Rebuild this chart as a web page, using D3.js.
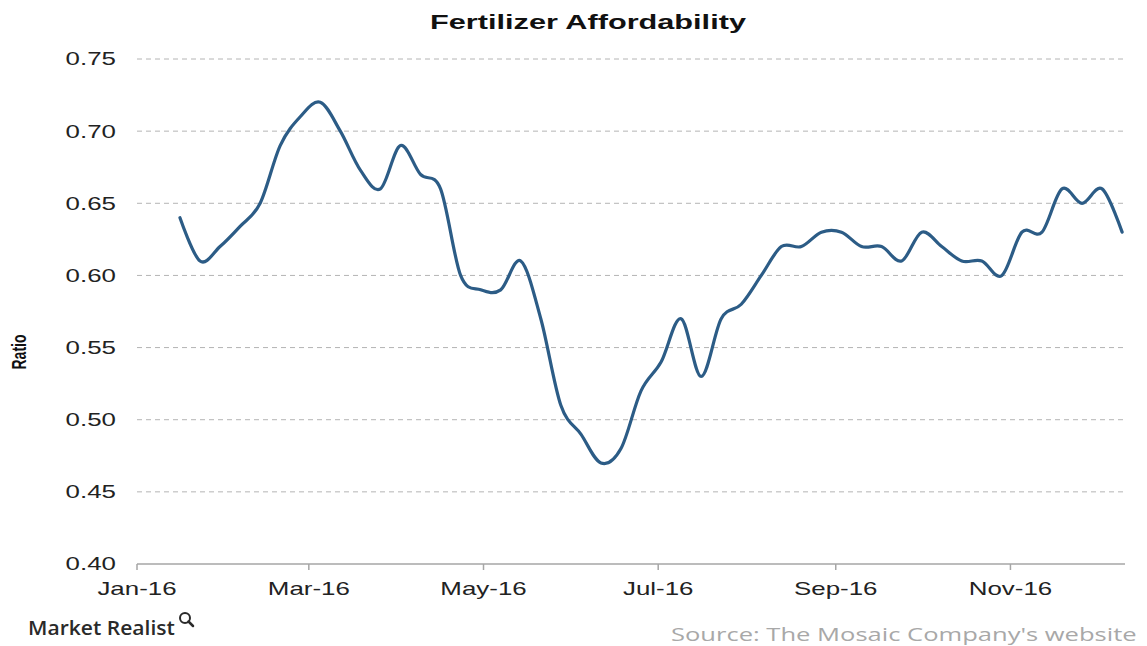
<!DOCTYPE html>
<html><head><meta charset="utf-8">
<script src="https://cdn.jsdelivr.net/npm/d3@7"></script>
<style>body{margin:0;background:#fff;overflow:hidden}svg{display:block}</style>
</head><body>
<svg id="chart" width="1147" height="646"></svg>
<script>
// ---- data ----
const weekDates = [
  "2016-01-16","2016-01-23","2016-01-30","2016-02-06","2016-02-13","2016-02-20","2016-02-27",
  "2016-03-05","2016-03-12","2016-03-19","2016-03-26","2016-04-02","2016-04-09","2016-04-16",
  "2016-04-23","2016-04-30","2016-05-07","2016-05-14","2016-05-21","2016-05-28","2016-06-04",
  "2016-06-11","2016-06-18","2016-06-25","2016-07-02","2016-07-09","2016-07-16","2016-07-23",
  "2016-07-30","2016-08-06","2016-08-13","2016-08-20","2016-08-27","2016-09-03","2016-09-10",
  "2016-09-17","2016-09-24","2016-10-01","2016-10-08","2016-10-15","2016-10-22","2016-10-29",
  "2016-11-05","2016-11-12","2016-11-19","2016-11-26","2016-12-03","2016-12-10"
];
const ratioValues = [
  0.64, 0.61, 0.62, 0.634, 0.65, 0.69, 0.71,
  0.72, 0.70, 0.673, 0.66, 0.69, 0.67, 0.66,
  0.60, 0.59, 0.59, 0.61, 0.57, 0.51, 0.49,
  0.47, 0.48, 0.52, 0.54, 0.57, 0.53, 0.57,
  0.58, 0.60, 0.62, 0.62, 0.63, 0.63, 0.62,
  0.62, 0.61, 0.63, 0.62, 0.61, 0.61, 0.60,
  0.63, 0.63, 0.66, 0.65, 0.66, 0.63
];
const yTickValues = [0.40, 0.45, 0.50, 0.55, 0.60, 0.65, 0.70, 0.75];
const xTickDates = ["2016-01-01","2016-03-01","2016-05-01","2016-07-01","2016-09-01","2016-11-01"];
const xTickLabels = ["Jan-16","Mar-16","May-16","Jul-16","Sep-16","Nov-16"];
const titleText = "Fertilizer Affordability";
const yAxisTitle = "Ratio";
const brandText = "Market Realist";
const sourceText = "Source: The Mosaic Company's website";

// ---- layout ----
const parse = d3.timeParse("%Y-%m-%d");
const svg = d3.select("#chart");
const plot = {left: 137, right: 1125, top: 59, bottom: 564};
const sx = 1.4; // horizontal stretch of the picture's lettering

const x = d3.scaleTime()
  .domain([parse("2016-01-01"), parse("2016-12-11")])
  .range([plot.left, plot.right]);
const y = d3.scaleLinear().domain([0.40, 0.75]).range([plot.bottom, plot.top]);

const data = weekDates.map((d, i) => ({date: parse(d), value: ratioValues[i]}));

// gridlines
svg.append("g").selectAll("line")
  .data(yTickValues.filter(v => v > 0.40))
  .join("line")
  .attr("x1", plot.left).attr("x2", plot.right)
  .attr("y1", d => y(d)).attr("y2", d => y(d))
  .attr("stroke", "#b4b4b4").attr("stroke-width", 1)
  .attr("stroke-dasharray", "5,4");

// y tick labels
svg.append("g").selectAll("text")
  .data(yTickValues)
  .join("text")
  .attr("transform", d => `translate(116,${y(d)}) scale(${sx},1)`)
  .attr("dy", "0.35em")
  .attr("text-anchor", "end")
  .attr("font-family", "Liberation Sans, Arial, sans-serif")
  .attr("font-size", 18.5)
  .attr("fill", "#222")
  .text(d => d.toFixed(2));

// x axis line and ticks
const xa = svg.append("g");
xa.append("line")
  .attr("x1", plot.left).attr("x2", plot.right)
  .attr("y1", plot.bottom).attr("y2", plot.bottom)
  .attr("stroke", "#a6a6a6").attr("stroke-width", 1.5);
const xTicks = xTickDates.map((d, i) => ({date: parse(d), label: xTickLabels[i]}));
xa.selectAll("line.tick")
  .data(xTicks)
  .join("line").attr("class", "tick")
  .attr("x1", d => x(d.date)).attr("x2", d => x(d.date))
  .attr("y1", plot.bottom).attr("y2", plot.bottom + 6)
  .attr("stroke", "#a6a6a6").attr("stroke-width", 1.5);
xa.selectAll("text")
  .data(xTicks)
  .join("text")
  .attr("transform", d => `translate(${x(d.date)},595) scale(${sx},1)`)
  .attr("text-anchor", "middle")
  .attr("font-family", "Liberation Sans, Arial, sans-serif")
  .attr("font-size", 18.5)
  .attr("fill", "#222")
  .text(d => d.label);

// line
const line = d3.line()
  .x(d => x(d.date))
  .y(d => y(d.value))
  .curve(d3.curveCardinal.tension(0));
svg.append("path")
  .datum(data)
  .attr("d", line)
  .attr("fill", "none")
  .attr("stroke", "#2c5c86")
  .attr("stroke-width", 3.2)
  .attr("stroke-linejoin", "round")
  .attr("stroke-linecap", "round");

// helper to stretch text horizontally to a target width
function fit(sel, width) {
  const w = sel.node().getComputedTextLength();
  return w > 0 ? width / w : 1;
}

// title
const title = svg.append("text")
  .attr("text-anchor", "middle")
  .attr("font-family", "Liberation Sans, Arial, sans-serif")
  .attr("font-weight", "bold")
  .attr("font-size", 20)
  .attr("fill", "#111")
  .text(titleText);
title.attr("transform", `translate(588,28.5) scale(${fit(title, 316)},1)`);

// y axis title
svg.append("text")
  .attr("transform", `translate(26,352) scale(1.45,1) rotate(-90)`)
  .attr("text-anchor", "middle")
  .attr("font-family", "Liberation Sans, Arial, sans-serif")
  .attr("font-weight", "bold")
  .attr("font-size", 14)
  .attr("fill", "#111")
  .text(yAxisTitle);

// brand
const brand = svg.append("text")
  .attr("font-family", "Open Sans, sans-serif")
  .attr("font-weight", 600)
  .attr("font-size", 19.5)
  .attr("fill", "#2a2a2a")
  .text(brandText);
brand.attr("transform", `translate(28,635) scale(${fit(brand, 147)},1)`);
const mg = svg.append("g").attr("stroke", "#2a2a2a").attr("fill", "none");
mg.append("circle").attr("cx", 185).attr("cy", 618).attr("r", 5).attr("stroke-width", 2);
mg.append("line").attr("x1", 188.5).attr("y1", 621.5).attr("x2", 193).attr("y2", 626)
  .attr("stroke-width", 2.5).attr("stroke-linecap", "round");

// source
const src = svg.append("text")
  .attr("font-family", "Open Sans, sans-serif")
  .attr("font-size", 19)
  .attr("fill", "#a8a8a8")
  .text(sourceText);
src.attr("transform", `translate(671,641) scale(${fit(src, 466)},1)`);
</script>
</body></html>
